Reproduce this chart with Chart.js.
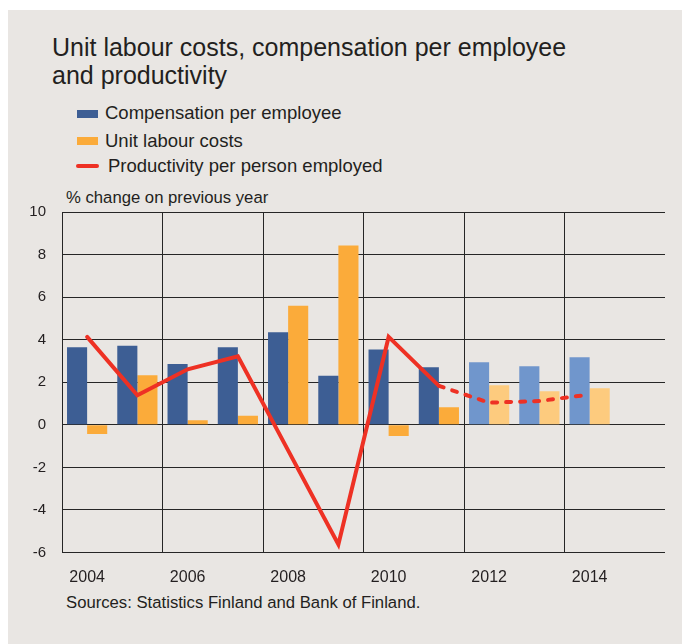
<!DOCTYPE html>
<html>
<head>
<meta charset="utf-8">
<script src="https://cdn.jsdelivr.net/npm/chart.js@4.4.0/dist/chart.umd.min.js"></script>
<style>
  body { margin: 0; background: #fff; font-family: "Liberation Sans", Arial, sans-serif; color: #231f20; }
  #panel { position: absolute; left: 8px; top: 10px; width: 674px; height: 634px; background: #e9e6e3; }
  .t { position: absolute; white-space: nowrap; line-height: 1; }
  .sw { position: absolute; width: 21px; height: 8px; }
  #wrap { position: absolute; left: 0; top: 0; width: 682px; height: 644px; }
</style>
</head>
<body>
<div id="panel"></div>
<div class="t" style="left:52px; top:33px; font-size:25px; line-height:28px;">Unit labour costs, compensation per employee<br>and productivity</div>

<div class="sw" style="left:77px; top:110px; background:#3d5e94;"></div>
<div class="t" style="left:105px; top:104px; font-size:18.5px;">Compensation per employee</div>
<div class="sw" style="left:77px; top:137px; background:#fbab3a;"></div>
<div class="t" style="left:105px; top:132px; font-size:18.5px;">Unit labour costs</div>
<div style="position:absolute; left:76px; top:164px; width:23px; height:4px; border-radius:2px; background:#ee3124;"></div>
<div class="t" style="left:108px; top:157px; font-size:18.5px;">Productivity per person employed</div>

<div class="t" style="left:66px; top:190px; font-size:16.7px;">% change on previous year</div>
<div class="t" style="left:66px; top:595px; font-size:16.7px;">Sources: Statistics Finland and Bank of Finland.</div>

<div id="wrap"><canvas id="c"></canvas></div>

<script>
// years on the x axis (2015 is an empty slot)
const years = ['2004', '2005', '2006', '2007', '2008', '2009', '2010', '2011', '2012', '2013', '2014', '2015'];
const compensation = [3.65, 3.72, 2.86, 3.65, 4.35, 2.31, 3.54, 2.70, 2.94, 2.75, 3.18, null];
const unitLabourCosts = [-0.43, 2.33, 0.21, 0.43, 5.59, 8.43, -0.53, 0.82, 1.86, 1.58, 1.72, null];
const productivity = [4.13, 1.39, 2.61, 3.22, -1.2, -5.62, 4.13, 1.83, 1.04, 1.12, 1.42, null];
const yTicks = [-6, -4, -2, 0, 2, 4, 6, 8, 10];
const firstForecast = 8; // 2012 onwards is forecast

const blue = '#3d5e94', blueLight = '#7096cc';
const orange = '#fbab3a', orangeLight = '#fdcb7e';
const red = '#ee3124';
const gridCol = '#262626';

const ctx = document.getElementById('c').getContext('2d');
new Chart(ctx, {
    type: 'bar',
    data: {
        labels: years,
        datasets: [
            {
                type: 'line',
                label: 'Productivity per person employed',
                data: productivity,
                borderColor: red,
                borderWidth: 4,
                pointRadius: 0,
                tension: 0,
                borderCapStyle: 'round',
                order: 0,
                segment: {
                    borderDash: c => c.p0DataIndex >= firstForecast - 1 ? [5, 9] : undefined
                }
            },
            {
                label: 'Compensation per employee',
                data: compensation,
                backgroundColor: years.map((y, i) => i >= firstForecast ? blueLight : blue),
                order: 1
            },
            {
                label: 'Unit labour costs',
                data: unitLabourCosts,
                backgroundColor: years.map((y, i) => i >= firstForecast ? orangeLight : orange),
                order: 1
            }
        ]
    },
    options: {
        responsive: true,
        maintainAspectRatio: false,
        animation: false,
        layout: { padding: { top: 212, right: 17, bottom: 0, left: 0 } },
        datasets: { bar: { categoryPercentage: 0.8, barPercentage: 1.0 } },
        plugins: { legend: { display: false }, tooltip: { enabled: false } },
        scales: {
            x: {
                grid: {
                    offset: true,
                    drawTicks: false,
                    color: c => c.index % 2 === 0 ? gridCol : 'transparent',
                    lineWidth: 1
                },
                border: { display: false },
                ticks: {
                    autoSkip: false,
                    maxRotation: 0,
                    padding: 15,
                    color: '#231f20',
                    font: { family: '"Liberation Sans", Arial, sans-serif', size: 16 },
                    callback: function (v, i) { return i % 2 === 0 ? years[i] : ''; }
                },
                afterFit: s => { s.height = 91.5; }
            },
            y: {
                min: yTicks[0],
                max: yTicks[yTicks.length - 1],
                grid: { drawTicks: false, color: gridCol, lineWidth: 1 },
                border: { display: false },
                afterBuildTicks: s => { s.ticks = yTicks.map(v => ({ value: v })); },
                ticks: {
                    padding: 16,
                    color: '#231f20',
                    font: { family: '"Liberation Sans", Arial, sans-serif', size: 15 }
                },
                afterFit: s => { s.width = 62; }
            }
        }
    }
});
</script>
</body>
</html>
